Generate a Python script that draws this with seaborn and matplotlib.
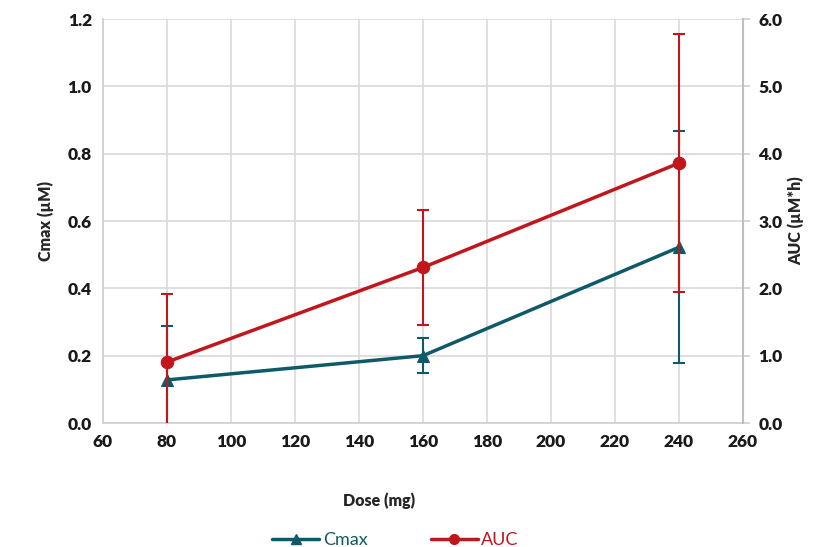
import matplotlib
matplotlib.use("Agg")
import matplotlib.pyplot as plt
import seaborn as sns
import pandas as pd
from matplotlib.lines import Line2D

dose = [80, 160, 240]
cmax = [0.128, 0.200, 0.522]
cmax_err = [0.160, 0.052, 0.345]
auc = [0.905, 2.31, 3.86]
auc_err = [1.01, 0.86, 1.91]

teal = "#0F5A69"
red = "#C0161C"

sns.set_theme(style="white")
plt.rcParams["font.family"] = ["Lato", "DejaVu Sans"]

fig = plt.figure(figsize=(8.38, 5.47), dpi=100)
ax = fig.add_axes([103/838, 1-423/547, 640/838, 404/547])
ax2 = ax.twinx()

df = pd.DataFrame({"dose": dose, "cmax": cmax, "auc": auc})

ax.errorbar(dose, cmax, yerr=cmax_err, fmt="none", ecolor=teal, elinewidth=1.5,
            capsize=4.5, capthick=1.5, zorder=2)
sns.lineplot(data=df, x="dose", y="cmax", ax=ax, color=teal, lw=2.5, marker="^",
             markersize=9, markeredgecolor=teal, zorder=3)

ax2.errorbar(dose, auc, yerr=auc_err, fmt="none", ecolor=red, elinewidth=1.5,
             capsize=4.5, capthick=1.5, zorder=2)
sns.lineplot(data=df, x="dose", y="auc", ax=ax2, color=red, lw=2.5, marker="o",
             markersize=9, markeredgecolor=red, zorder=3)

ax.set_xlim(60, 260)
ax.set_ylim(0, 1.2)
ax2.set_ylim(0, 6.0)
ax.set_xticks(range(60, 261, 20))
ax.set_yticks([i * 0.2 for i in range(7)])
ax2.set_yticks(range(7))
ax.set_yticklabels([f"{i*0.2:.1f}" for i in range(7)])
ax2.set_yticklabels([f"{i:.1f}" for i in range(7)])

ax.grid(True, color="#D9D9D9", lw=1.2)
ax2.grid(False)
for a in (ax, ax2):
    for s in a.spines.values():
        s.set_visible(False)
ax.spines["left"].set_visible(True)
ax.spines["left"].set_color("#D0D0D0")
ax.spines["bottom"].set_visible(True)
ax.spines["bottom"].set_color("#D0D0D0")
ax2.spines["right"].set_visible(True)
ax2.spines["right"].set_color("#BFBFBF")
ax2.spines["right"].set_linewidth(1.5)

for a in (ax, ax2):
    a.tick_params(axis="both", length=0, labelsize=12.5, labelcolor="#1a1a1a", pad=8)
    for lab in a.get_xticklabels() + a.get_yticklabels():
        lab.set_fontweight("heavy")
ax2.tick_params(axis="y", length=5, color="#D0D0D0", direction="out", pad=6)

ax.set_xlabel("Dose (mg)", fontsize=11.5, fontweight="heavy")
ax.xaxis.set_label_coords(0.431, -0.171)
ax.set_ylabel("Cmax (\u00b5M)", fontsize=11.5, fontweight="heavy", labelpad=10)
ax2.set_ylabel("AUC (\u00b5M*h)", fontsize=11.5, fontweight="heavy", labelpad=4)

handles = [Line2D([], [], color=teal, lw=2.5, marker="^", markersize=7),
           Line2D([], [], color=red, lw=2.5, marker="o", markersize=7)]
leg = fig.legend(handles, ["Cmax", "AUC"], loc="center", bbox_to_anchor=(0.472, 1-540/547),
                 ncol=2, frameon=False, fontsize=13, handlelength=2.6, handletextpad=0.2,
                 columnspacing=3.5)
leg.get_texts()[0].set_color(teal)
leg.get_texts()[1].set_color(red)

fig.savefig("out.png", dpi=100)
